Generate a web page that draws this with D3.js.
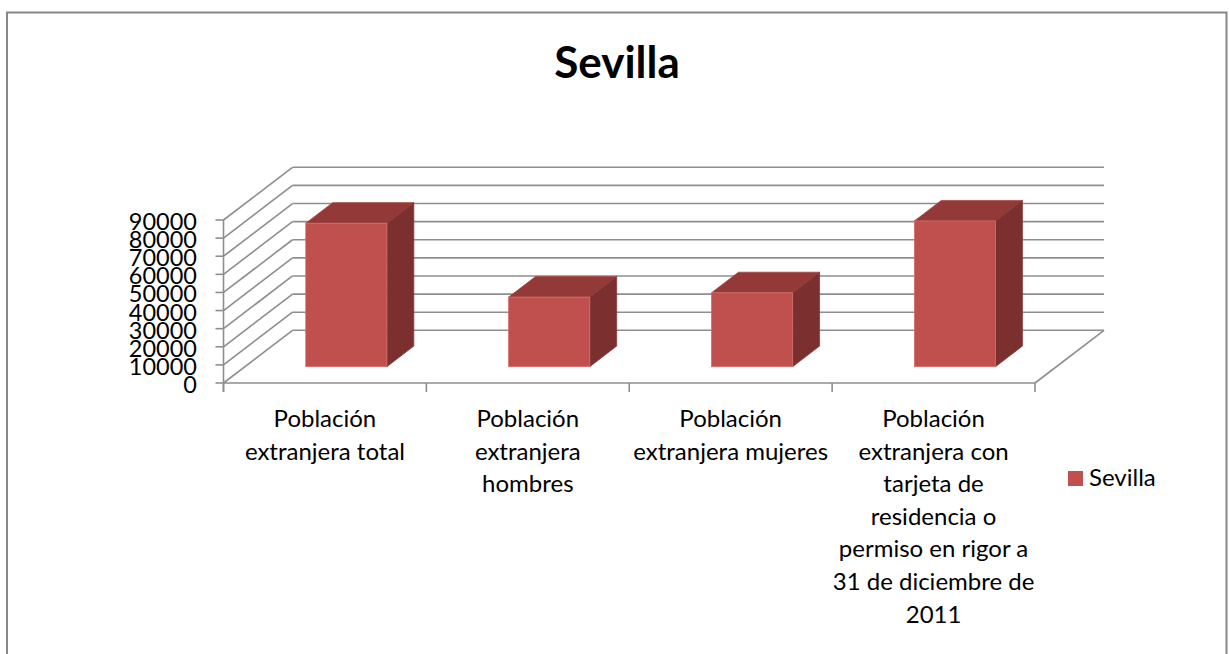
<!DOCTYPE html>
<html><head><meta charset="utf-8">
<script src="https://cdn.jsdelivr.net/npm/d3@7"></script>
<style>html,body{margin:0;padding:0;background:#fff;overflow:hidden}</style>
</head><body>
<svg id="chart" width="1229" height="654"></svg>
<script>
const title = "Sevilla";
const seriesName = "Sevilla";
const categories = [
  ["Población","extranjera total"],
  ["Población","extranjera","hombres"],
  ["Población","extranjera mujeres"],
  ["Población","extranjera con","tarjeta de","residencia o","permiso en rigor a","31 de diciembre de","2011"]
];
const values = [79200, 38400, 40800, 80450];
const yTicks = [0,10000,20000,30000,40000,50000,60000,70000,80000,90000];

const svg = d3.select("#chart");
const W = 1229, H = 654;
svg.append("rect").attr("x",0).attr("y",0).attr("width",W).attr("height",H).attr("fill","#fff");
// chart border
svg.append("rect").attr("x",7).attr("y",12.5).attr("width",1219.5).attr("height",700)
  .attr("fill","none").attr("stroke","#878787").attr("stroke-width",2);

const x0 = 223.5, x1 = 1035, yBase = 383, yTop = 220;
const DX = 69, DY = -52.7;
const idx = categories.map((d,i)=>i);
const x = d3.scaleBand().domain(idx).range([x0,x1]).padding(0);
const y = d3.scaleLinear().domain([0,90000]).range([yBase,yTop]);
const grid = "#8e8e8e";

const g = svg.append("g");
// back wall gridlines
g.selectAll(".bw").data(yTicks).join("line")
  .attr("x1",x0+DX).attr("x2",x1+DX)
  .attr("y1",d=>y(d)+DY).attr("y2",d=>y(d)+DY)
  .attr("stroke",grid).attr("stroke-width",1.6);
// side wall lines
g.selectAll(".sw").data(yTicks).join("line")
  .attr("x1",x0).attr("x2",x0+DX)
  .attr("y1",d=>y(d)).attr("y2",d=>y(d)+DY)
  .attr("stroke",grid).attr("stroke-width",1.6);
// floor right edge
g.append("line").attr("x1",x1).attr("y1",y(0)).attr("x2",x1+DX).attr("y2",y(0)+DY)
  .attr("stroke",grid).attr("stroke-width",1.6);

// bars
const z0 = 0.31, z1 = 0.70, bwFrac = 0.4;
const bars = g.selectAll(".bar").data(values).join("g");
bars.each(function(v,i){
  const gg = d3.select(this);
  const bw = x.bandwidth()*bwFrac;
  const fx = x(i) + (x.bandwidth()-bw)/2 + z0*DX;
  const fyT = y(v) + z0*DY, fyB = y(0) + z0*DY;
  const ddx = (z1-z0)*DX, ddy = (z1-z0)*DY;
  gg.append("path").attr("d",`M${fx},${fyT}L${fx+ddx},${fyT+ddy}L${fx+bw+ddx},${fyT+ddy}L${fx+bw},${fyT}Z`)
    .attr("fill","#933a38").attr("stroke","#a34644").attr("stroke-width",0.8);
  gg.append("path").attr("d",`M${fx+bw},${fyT}L${fx+bw+ddx},${fyT+ddy}L${fx+bw+ddx},${fyB+ddy}L${fx+bw},${fyB}Z`)
    .attr("fill","#7b302f").attr("stroke","#8a3a38").attr("stroke-width",0.8);
  gg.append("rect").attr("x",fx).attr("y",fyT).attr("width",bw).attr("height",fyB-fyT)
    .attr("fill","#c0504d").attr("stroke","#d46d6a").attr("stroke-width",0.8);
});

// front axes
const ax = svg.append("g");
ax.append("line").attr("x1",x0).attr("x2",x1).attr("y1",yBase).attr("y2",yBase).attr("stroke",grid).attr("stroke-width",1.6);
ax.append("line").attr("x1",x0).attr("x2",x0).attr("y1",yTop).attr("y2",yBase+9).attr("stroke",grid).attr("stroke-width",1.6);
ax.selectAll(".yt").data(yTicks).join("line")
  .attr("x1",x0-8).attr("x2",x0).attr("y1",d=>y(d)).attr("y2",d=>y(d))
  .attr("stroke",grid).attr("stroke-width",1.6);
const bounds = idx.map(i=>x(i)).concat([x1]);
ax.selectAll(".xt").data(bounds).join("line")
  .attr("x1",d=>d).attr("x2",d=>d).attr("y1",yBase).attr("y2",yBase+9)
  .attr("stroke",grid).attr("stroke-width",1.6);

// y labels
ax.selectAll(".yl").data(yTicks).join("text")
  .attr("x",197).attr("y",d=>y(d)+10).attr("text-anchor","end")
  .attr("font-family","Lato, 'Open Sans', sans-serif").attr("font-size",23.5).attr("fill","#000")
  .text(d=>d);

// category labels
const lab = svg.append("g").attr("font-family","Lato, 'Open Sans', sans-serif").attr("font-size",24).attr("fill","#000");
categories.forEach((lines,i)=>{
  const t = lab.append("text").attr("text-anchor","middle");
  lines.forEach((ln,j)=>{
    t.append("tspan").attr("x",x(i)+x.bandwidth()/2).attr("y",427+j*32.6).text(ln);
  });
});

// title
svg.append("text").attr("x",617).attr("y",78).attr("text-anchor","middle")
  .attr("font-family","Lato, 'Open Sans', sans-serif").attr("font-weight","bold").attr("font-size",44)
  .attr("fill","#000").text(title);

// legend
svg.append("rect").attr("x",1068).attr("y",471).attr("width",15).attr("height",15).attr("fill","#c0504d");
svg.append("text").attr("x",1089).attr("y",486).attr("font-family","Lato, 'Open Sans', sans-serif")
  .attr("font-size",24).attr("fill","#000").text(seriesName);
</script>
</body></html>
